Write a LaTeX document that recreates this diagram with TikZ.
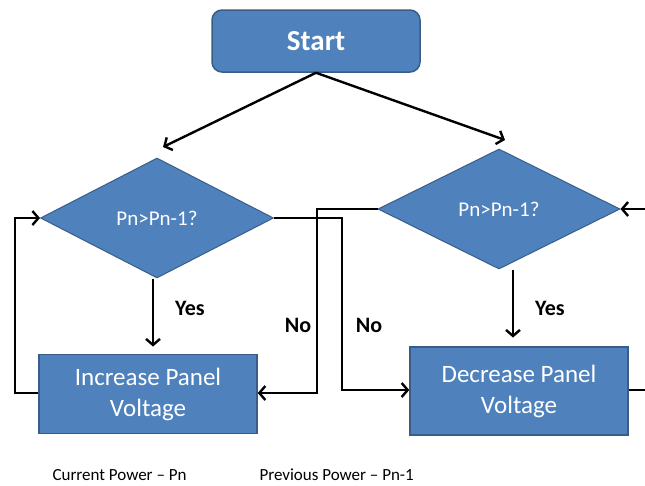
\documentclass[tikz,border=0pt]{standalone}
\usepackage{fontspec}
\setmainfont{Carlito}
\usetikzlibrary{arrows.meta, positioning, shapes.geometric}
\definecolor{boxfill}{HTML}{4F81BD}
\definecolor{boxline}{HTML}{385D8A}

\begin{document}
\begin{tikzpicture}[
  x=1pt, y=-1pt,
  startbox/.style={draw=boxline, fill=boxfill, line width=1.5pt, rounded corners=10pt, minimum width=208pt, minimum height=62pt, text=white, font=\fontsize{29}{33}\selectfont\bfseries},
  decision/.style={draw=boxline, fill=boxfill, line width=1pt, diamond, inner sep=0pt, text=white, font=\fontsize{21}{25}\selectfont},
  action/.style={draw=boxline, fill=boxfill, line width=1.5pt, minimum width=218pt, align=center, text=white, font=\fontsize{25}{31}\selectfont},
  lbl/.style={font=\fontsize{22}{26}\selectfont\bfseries},
  note/.style={font=\fontsize{17}{20}\selectfont},
  flow/.style={->, line width=2.4pt},
  >={Straight Barb[length=6pt, width=14pt]}
]
\useasboundingbox (0,0) rectangle (645,485);

\node[startbox] (start) at (316,41) {Start};
\node[decision, minimum width=233pt, minimum height=120pt] (chkinc) at (157,218) {Pn>Pn-1?};
\node[decision, minimum width=242pt, minimum height=120pt] (chkdec) at (499,209) {Pn>Pn-1?};
\node[action, minimum height=79pt] (inc) at (148,394) {Increase Panel\\Voltage};
\node[action, minimum height=88pt] (dec) at (519,391) {Decrease Panel\\Voltage};

% ends of the outer loop, cut off at the right edge
\coordinate (outA) at (645,390);
\coordinate (outB) at (645,209);

\draw[flow] (start.south) -- (163,147);
\draw[flow] (start.south) -- (505,140);

\draw[flow] ([xshift=-4pt]chkinc.south) -- ++(0,68);
\draw[flow] ([xshift=14pt]chkdec.south) -- ++(0,68);
\node[lbl] (yesinc) at (190,308) {Yes};
\node[lbl] (yesdec) at (550,308) {Yes};

% loop back from the increase step
\draw[flow] (inc.west |- 0,393) -- (15,393) |- (chkinc.west);
% the two "No" branches
\draw[flow] (chkinc.east) -- (342,218) |- (dec.west |- 0,390);
\draw[flow] (chkdec.west) -- (317,209) |- (inc.east |- 0,393);
\node[lbl] (noinc) at (298,325) {No};
\node[lbl] (nodec) at (369,325) {No};

\draw[line width=2.4pt] (dec.east |- outA) -- (outA);
\draw[flow] (outB) -- (chkdec.east);

\node[note, anchor=west] (cur) at (49,475) {Current Power – Pn};
\node[note, anchor=west] (prev) at (256,475) {Previous Power – Pn-1};
\end{tikzpicture}
\end{document}
